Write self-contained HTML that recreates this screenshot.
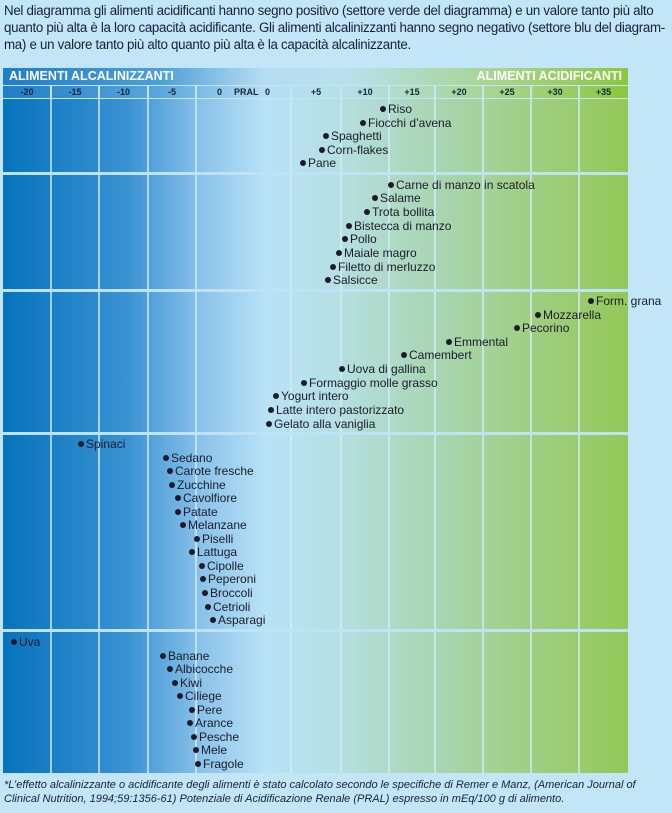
<!DOCTYPE html>
<html><head><meta charset="utf-8"><style>
body{margin:0;width:672px;height:813px;background:#c2e5f7;position:relative;overflow:hidden;font-family:"Liberation Sans Narrow","Liberation Sans",sans-serif;color:#1b1b2a}
.intro{position:absolute;left:4px;top:2px;width:668px;font-size:13.4px;line-height:17px;color:#16213a;letter-spacing:-0.3px}
.intro div{white-space:nowrap;transform:scaleX(0.995);transform-origin:0 0}
.hdr{position:absolute;left:3px;top:68px;width:625px;height:17px;background:linear-gradient(to right,#1f7ec8 0%,#4d9fd8 25%,#b6def2 42%,#b9e0ec 55%,#a6d48a 80%,#8cc63f 100%);color:#fff;font-weight:bold;font-size:12.5px;line-height:17px}
.axis{position:absolute;left:3px;top:86px;width:625px;height:12px;font-size:9px;line-height:12px;color:#17243a;font-weight:bold}
.chart{position:absolute;left:3px;top:99px;width:625px;height:674px;background:linear-gradient(to right,#0773bd 0%,#3a92d2 20%,#8cc3ea 32%,#b8e2f6 42%,#b6e0e6 52%,#a8d5b0 70%,#9dcd78 88%,#93c859 100%)}
.v{position:absolute;top:0;bottom:0;width:2px;background:rgba(210,235,250,.75)}
.h{position:absolute;left:0;right:0;height:3px;background:#bfe3f5}
.it{position:absolute;font-size:12px;line-height:13px;white-space:nowrap;color:#1b1b2a;margin-top:1px}
.it:before{content:"";display:inline-block;width:6px;height:6px;border-radius:50%;background:#1b1b2a;margin-right:2px;vertical-align:1px}
.foot{position:absolute;left:4px;top:778px;font-size:11px;line-height:14px;font-style:italic;color:#16213a}
.lb{position:absolute;top:0;text-align:center}
</style></head><body>
<div class="intro"><div>Nel diagramma gli alimenti acidificanti hanno segno positivo (settore verde del diagramma) e un valore tanto più alto</div><div>quanto più alta è la loro capacità acidificante. Gli alimenti alcalinizzanti hanno segno negativo (settore blu del diagram-</div><div>ma) e un valore tanto più alto quanto più alta è la capacità alcalinizzante.</div></div>
<div class="hdr"><span style="position:absolute;left:6px">ALIMENTI ALCALINIZZANTI</span><span style="position:absolute;right:6px">ALIMENTI ACIDIFICANTI</span></div>
<div class="axis" style="background:linear-gradient(to right,#1f7ec8 0%,#5aa6dc 25%,#b6def2 42%,#b6dfe6 55%,#a6d48a 80%,#8cc63f 100%)">
<span class="lb" style="left:0;width:48px">-20</span><span class="lb" style="left:48px;width:48px">-15</span><span class="lb" style="left:96px;width:49px">-10</span><span class="lb" style="left:145px;width:48px">-5</span>
<span class="lb" style="left:214px">0</span><span class="lb" style="left:231px">PRAL</span><span class="lb" style="left:262px">0</span>
<span class="lb" style="left:288px;width:50px">+5</span><span class="lb" style="left:338px;width:48px">+10</span><span class="lb" style="left:386px;width:46px">+15</span><span class="lb" style="left:432px;width:48px">+20</span><span class="lb" style="left:480px;width:48px">+25</span><span class="lb" style="left:528px;width:48px">+30</span><span class="lb" style="left:576px;width:49px">+35</span>
<div class="v" style="left:47px;background:#c2e5f7"></div><div class="v" style="left:95px;background:#c2e5f7"></div><div class="v" style="left:144px;background:#c2e5f7"></div><div class="v" style="left:192px;background:#c2e5f7"></div><div class="v" style="left:287px;background:#c2e5f7"></div><div class="v" style="left:337px;background:#c2e5f7"></div><div class="v" style="left:385px;background:#c2e5f7"></div><div class="v" style="left:431px;background:#c2e5f7"></div><div class="v" style="left:479px;background:#c2e5f7"></div><div class="v" style="left:527px;background:#c2e5f7"></div><div class="v" style="left:575px;background:#c2e5f7"></div>
</div>
<div class="chart">
<div class="v" style="left:47px"></div><div class="v" style="left:95px"></div><div class="v" style="left:144px"></div><div class="v" style="left:192px"></div><div class="v" style="left:287px"></div><div class="v" style="left:337px"></div><div class="v" style="left:385px"></div><div class="v" style="left:431px"></div><div class="v" style="left:479px"></div><div class="v" style="left:527px"></div><div class="v" style="left:575px"></div>
<div class="h" style="top:73px"></div><div class="h" style="top:190px"></div><div class="h" style="top:333px"></div><div class="h" style="top:530px"></div>
</div>
<div class="it" style="left:380px;top:102px">Riso</div>
<div class="it" style="left:360px;top:116px">Fiocchi d’avena</div>
<div class="it" style="left:323px;top:129px">Spaghetti</div>
<div class="it" style="left:319px;top:143px">Corn-flakes</div>
<div class="it" style="left:300px;top:156px">Pane</div>
<div class="it" style="left:388px;top:178px">Carne di manzo in scatola</div>
<div class="it" style="left:372px;top:191px">Salame</div>
<div class="it" style="left:364px;top:205px">Trota bollita</div>
<div class="it" style="left:346px;top:219px">Bistecca di manzo</div>
<div class="it" style="left:342px;top:232px">Pollo</div>
<div class="it" style="left:336px;top:246px">Maiale magro</div>
<div class="it" style="left:330px;top:260px">Filetto di merluzzo</div>
<div class="it" style="left:325px;top:273px">Salsicce</div>
<div class="it" style="left:588px;top:294px">Form. grana</div>
<div class="it" style="left:535px;top:308px">Mozzarella</div>
<div class="it" style="left:514px;top:321px">Pecorino</div>
<div class="it" style="left:446px;top:335px">Emmental</div>
<div class="it" style="left:401px;top:348px">Camembert</div>
<div class="it" style="left:339px;top:362px">Uova di gallina</div>
<div class="it" style="left:301px;top:376px">Formaggio molle grasso</div>
<div class="it" style="left:273px;top:389px">Yogurt intero</div>
<div class="it" style="left:268px;top:403px">Latte intero pastorizzato</div>
<div class="it" style="left:266px;top:417px">Gelato alla vaniglia</div>
<div class="it" style="left:78px;top:437px">Spinaci</div>
<div class="it" style="left:163px;top:451px">Sedano</div>
<div class="it" style="left:167px;top:464px">Carote fresche</div>
<div class="it" style="left:169px;top:478px">Zucchine</div>
<div class="it" style="left:175px;top:491px">Cavolfiore</div>
<div class="it" style="left:175px;top:505px">Patate</div>
<div class="it" style="left:180px;top:518px">Melanzane</div>
<div class="it" style="left:194px;top:532px">Piselli</div>
<div class="it" style="left:189px;top:545px">Lattuga</div>
<div class="it" style="left:199px;top:559px">Cipolle</div>
<div class="it" style="left:200px;top:572px">Peperoni</div>
<div class="it" style="left:202px;top:586px">Broccoli</div>
<div class="it" style="left:205px;top:600px">Cetrioli</div>
<div class="it" style="left:210px;top:613px">Asparagi</div>
<div class="it" style="left:11px;top:635px">Uva</div>
<div class="it" style="left:160px;top:649px">Banane</div>
<div class="it" style="left:167px;top:662px">Albicocche</div>
<div class="it" style="left:172px;top:676px">Kiwi</div>
<div class="it" style="left:177px;top:689px">Ciliege</div>
<div class="it" style="left:189px;top:703px">Pere</div>
<div class="it" style="left:187px;top:716px">Arance</div>
<div class="it" style="left:191px;top:730px">Pesche</div>
<div class="it" style="left:193px;top:743px">Mele</div>
<div class="it" style="left:195px;top:757px">Fragole</div>
<div class="foot">*L’effetto alcalinizzante o acidificante degli alimenti è stato calcolato secondo le specifiche di Remer e Manz, (American Journal of<br>Clinical Nutrition, 1994;59:1356-61) Potenziale di Acidificazione Renale (PRAL) espresso in mEq/100 g di alimento.</div>
</body></html>
